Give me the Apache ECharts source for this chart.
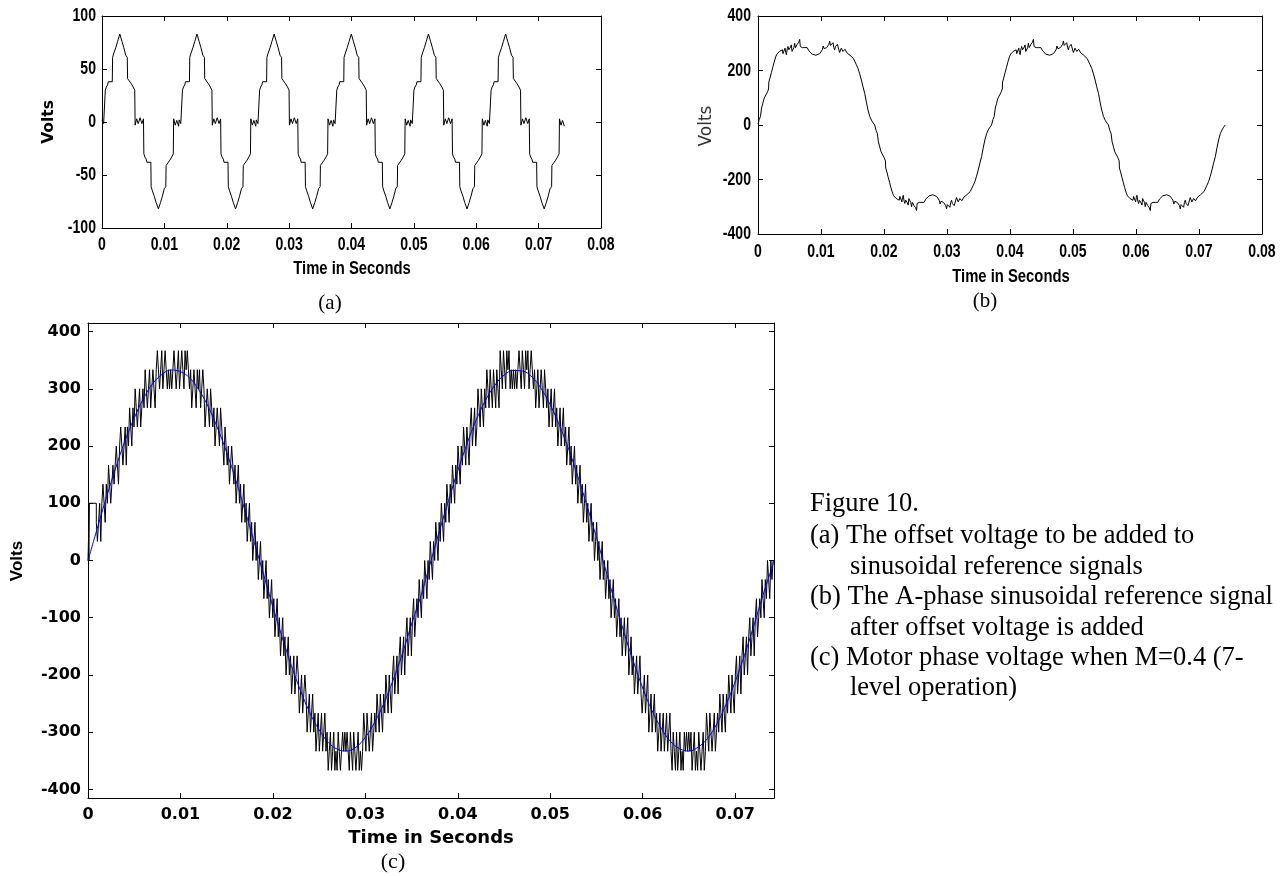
<!DOCTYPE html>
<html><head><meta charset="utf-8">
<script src="https://cdn.jsdelivr.net/npm/echarts@6/dist/echarts.min.js"></script>
<style>html,body{margin:0;padding:0;background:#fff}#chart{width:1287px;height:876px}</style>
</head><body><div id="chart"></div>
<script>
// ===== DATA (time offsets in units of 10 microseconds) =====
// (a) one period of the offset voltage
const A_PERIOD_T = [0,26,53,53,69,90,101,128,165,170,190,220,250,286,320,350,380,405,410,440,470,500,525,531,556,580,610,640,665,671,687,708,719,746,783,788,808,838,868,904,938,968,998,1023,1028,1058,1088,1118,1143,1149,1174,1198,1228];
const A_PERIOD_V = [2,-1.5,-3,30,33,35,38,39,38,61,65,70,76,83,76,70,63,61,41,40,36,33,30,-3,3,-1.5,4,-1.5,3,-30,-33,-35,-38,-39,-38,-61,-65,-70,-76,-82,-76,-70,-63,-61,-41,-40,-36,-33,-30,3,-3,1.5,-4];
const A_PERIOD_STARTS = [0, 0.01237, 0.02474, 0.03711, 0.04948, 0.06185];

// (b) one cycle of the A-phase reference after offset
const B_CYCLE_T = [0,20,40,53,56,75,95,115,135,155,168,172,190,212,235,255,281,300,318,340,360,387,397,412,429,440,450,465,476,490,503,516,529,540,556,570,582,595,608,622,635,648,661,672,690,705,725,745,760,780,795,808,830,860,890,920,950,980,1005,1021,1035,1050,1065,1074,1090,1111,1125,1138,1150,1164,1178,1191,1204,1217,1230,1244,1260,1272,1286,1296,1307,1322,1339,1350,1360,1380,1402,1415,1429,1445,1460,1490,1515,1535,1560,1587,1614,1641,1667,1694,1720,1746,1773,1800,1826,1852,
 1855,1875,1895,1908,1911,1930,1950,1970,1990,2010,2023,2027,2045,2067,2090,2110,2136,2155,2173,2195,2215,2242,2252,2267,2284,2295,2305,2320,2331,2345,2358,2371,2384,2395,2411,2425,2437,2450,2463,2477,2490,2503,2516,2527,2545,2560,2580,2600,2615,2635,2650,2663,2685,2715,2745,2775,2805,2835,2860,2876,2890,2905,2920,2929,2945,2966,2980,2993,3005,3019,3033,3046,3059,3072,3085,3099,3115,3127,3141,3151,3162,3177,3194,3205,3215,3235,3257,3270,3284,3300,3315,3345,3370,3390,3415,3442,3469,3496,3522,3549,3575,3601,3628,3655,3681,3707];
const B_CYCLE_V = [4,20,32,38,62,78,96,106,114,124,132,158,172,192,212,230,250,260,266,270,274,276,262,268,282,266,258,280,288,276,274,286,294,270,268,284,300,284,280,296,294,304,314,288,286,284,288,284,281,284,282,272,266,260,256,256,258,262,268,276,290,280,282,275,284,288,296,308,292,288,298,302,284,276,288,290,296,300,300,266,264,282,280,270,268,278,274,264,262,258,256,250,244,239,222,208,188,165,140,116,84,55,32,18,8,0,
 -4,-20,-32,-38,-62,-78,-96,-106,-114,-124,-132,-158,-172,-192,-212,-230,-250,-260,-266,-270,-274,-276,-262,-268,-282,-266,-258,-280,-288,-276,-274,-286,-294,-270,-268,-284,-300,-284,-280,-296,-294,-304,-314,-288,-286,-284,-288,-284,-281,-284,-282,-272,-266,-260,-256,-256,-258,-262,-268,-276,-290,-280,-282,-275,-284,-288,-296,-308,-292,-288,-298,-302,-284,-276,-288,-290,-296,-300,-300,-266,-264,-282,-280,-270,-268,-278,-274,-264,-262,-258,-256,-250,-244,-239,-222,-208,-188,-165,-140,-116,-84,-55,-32,-18,-8,0];
const B_CYCLE_STARTS = [0, 0.0371];

// (c) blue sinusoidal reference, sampled every 1 ms (last point 74.2 ms)
const C_BLUE_T = [0,1,2,3,4,5,6,7,8,9,10,11,12,13,14,15,16,17,18,19,20,21,22,23,24,25,26,27,28,29,30,31,32,33,34,35,36,37,38,39,40,41,42,43,44,45,46,47,48,49,50,51,52,53,54,55,56,57,58,59,60,61,62,63,64,65,66,67,68,69,70,71,72,73,74,74.2];
const C_BLUE_V = [0,56,111,162,209,249,283,309,325,333,330,319,298,269,232,189,140,86,31,-25,-81,-134,-184,-228,-266,-296,-318,-330,-333,-326,-309,-283,-250,-209,-163,-111,-62,-6,51,105,157,204,246,280,306,324,332,331,321,301,272,236,194,146,94,40,-17,-73,-127,-177,-223,-262,-293,-316,-329,-333,-326,-311,-286,-252,-212,-166,-115,-61,-11,0];

// (c) black motor phase voltage: pairs [time (10 us units), level index], 1 level = 100/3 V
const C_Q1 = [0,0, 5,1, 10,0, 15,3, 90,2, 102,1, 114,2, 126,3, 138,1, 150,3, 162,4, 174,3, 186,2, 198,4, 210,3, 222,5, 234,4, 246,3, 258,4, 270,5, 282,4, 294,5, 306,6, 318,5, 330,4, 342,6, 354,7, 366,6, 378,5, 390,6, 402,7, 414,5, 426,7, 438,6, 450,8, 462,7, 474,6, 486,8, 498,7, 510,9, 522,8, 534,7, 546,8, 558,9, 570,7, 582,8, 594,9, 606,8, 618,10, 630,9, 642,8, 654,9, 666,10, 678,8, 690,9, 702,10, 714,9, 726,8, 738,10, 750,11, 762,10, 774,9, 786,10, 798,11, 810,9, 822,10, 834,11, 846,10, 858,9, 870,10, 882,9, 894,10, 906,9, 918,10];
const C_Q2 = [930,11, 942,10, 954,9, 966,10, 978,11, 990,9, 1002,10, 1014,11, 1026,10, 1038,9, 1050,11, 1062,10, 1074,11, 1086,10, 1098,9, 1110,10, 1122,8, 1134,9, 1146,10, 1158,9, 1170,8, 1182,10, 1194,9, 1206,10, 1218,8, 1230,9, 1242,10, 1254,9, 1266,7, 1278,8, 1290,9, 1302,8, 1314,7, 1326,9, 1338,8, 1350,7, 1362,8, 1374,6, 1386,7, 1398,8, 1410,7, 1422,6, 1434,8, 1446,7, 1458,6, 1470,5, 1482,7, 1494,6, 1506,5, 1518,6, 1530,4, 1542,5, 1554,6, 1566,5, 1578,4, 1590,5, 1602,3, 1614,4, 1626,5, 1638,3, 1650,4, 1662,2, 1674,3, 1686,4, 1698,2, 1710,3, 1722,1, 1734,2, 1746,3, 1758,1, 1770,2, 1782,0, 1794,1, 1806,2, 1818,0, 1830,1, 1842,-1, 1854,0];
const C_Q3 = [1866,1, 1878,-1, 1890,0, 1902,-2, 1914,-1, 1926,0, 1938,-2, 1950,-1, 1962,-3, 1974,-2, 1986,-1, 1998,-3, 2010,-2, 2022,-4, 2034,-3, 2046,-2, 2058,-4, 2070,-3, 2082,-5, 2094,-4, 2106,-3, 2118,-5, 2130,-4, 2142,-6, 2154,-5, 2166,-4, 2178,-6, 2190,-5, 2202,-7, 2214,-6, 2226,-5, 2238,-7, 2250,-6, 2262,-5, 2274,-6, 2286,-8, 2298,-7, 2310,-6, 2322,-8, 2334,-7, 2346,-6, 2358,-7, 2370,-9, 2382,-8, 2394,-7, 2406,-9, 2418,-8, 2430,-7, 2442,-9, 2454,-8, 2466,-10, 2478,-9, 2490,-8, 2502,-10, 2514,-9, 2526,-8, 2538,-10, 2550,-9, 2562,-8, 2574,-10, 2586,-9, 2598,-11, 2610,-10, 2622,-9, 2634,-11, 2646,-10, 2658,-9, 2670,-11, 2682,-10, 2694,-11, 2706,-9, 2718,-10, 2730,-11, 2742,-10, 2754,-9, 2766,-10, 2778,-9, 2790,-10, 2802,-9, 2814,-10];
const C_Q4 = [2826,-11, 2838,-9, 2850,-10, 2862,-11, 2874,-9, 2886,-10, 2898,-11, 2910,-10, 2922,-9, 2934,-11, 2946,-10, 2958,-11, 2970,-10, 2982,-8, 2994,-9, 3006,-10, 3018,-8, 3030,-9, 3042,-10, 3054,-9, 3066,-8, 3078,-10, 3090,-9, 3102,-8, 3114,-9, 3126,-7, 3138,-8, 3150,-9, 3162,-7, 3174,-8, 3186,-9, 3198,-7, 3210,-8, 3222,-6, 3234,-7, 3246,-8, 3258,-6, 3270,-7, 3282,-8, 3294,-6, 3306,-5, 3318,-7, 3330,-6, 3342,-5, 3354,-7, 3366,-5, 3378,-4, 3390,-6, 3402,-5, 3414,-4, 3426,-6, 3438,-4, 3450,-3, 3462,-5, 3474,-4, 3486,-3, 3498,-5, 3510,-3, 3522,-2, 3534,-4, 3546,-3, 3558,-2, 3570,-3, 3582,-1, 3594,-2, 3606,-3, 3618,-1, 3630,-2, 3642,0, 3654,-1, 3666,-2, 3678,0, 3690,-1, 3702,1];
const C_Q5 = [3714,0, 3726,-1, 3738,1, 3750,0, 3762,2, 3774,1, 3786,0, 3798,2, 3810,1, 3822,3, 3834,2, 3846,1, 3858,3, 3870,2, 3882,4, 3894,3, 3906,2, 3918,4, 3930,3, 3942,5, 3954,4, 3966,3, 3978,5, 3990,4, 4002,6, 4014,5, 4026,4, 4038,6, 4050,5, 4062,7, 4074,6, 4086,5, 4098,7, 4110,6, 4122,5, 4134,7, 4146,8, 4158,6, 4170,7, 4182,8, 4194,6, 4206,7, 4218,9, 4230,8, 4242,7, 4254,9, 4266,8, 4278,7, 4290,9, 4302,8, 4314,10, 4326,9, 4338,8, 4350,10, 4362,9, 4374,8, 4386,10, 4398,9, 4410,8, 4422,10, 4434,9, 4446,8, 4458,11, 4470,10, 4482,9, 4494,11, 4506,10, 4518,9, 4530,11, 4542,10, 4554,11, 4566,9, 4578,10, 4590,9, 4602,10, 4614,9, 4626,10, 4638,9];
const C_Q6 = [4650,10, 4662,11, 4674,10, 4686,9, 4698,11, 4710,10, 4722,9, 4734,11, 4746,10, 4758,11, 4770,9, 4782,10, 4794,11, 4806,10, 4818,9, 4830,10, 4842,8, 4854,9, 4866,10, 4878,8, 4890,9, 4902,10, 4914,9, 4926,8, 4938,10, 4950,9, 4962,8, 4974,9, 4986,7, 4998,8, 5010,9, 5022,7, 5034,8, 5046,9, 5058,7, 5070,8, 5082,6, 5094,7, 5106,8, 5118,6, 5130,7, 5142,8, 5154,6, 5166,7, 5178,5, 5190,6, 5202,7, 5214,5, 5226,6, 5238,4, 5250,5, 5262,6, 5274,4, 5286,5, 5298,3, 5310,4, 5322,5, 5334,3, 5346,4, 5358,2, 5370,3, 5382,4, 5394,2, 5406,3, 5418,1, 5430,2, 5442,3, 5454,1, 5466,2, 5478,0, 5490,1, 5502,2, 5514,0, 5526,1, 5538,-1, 5550,0, 5562,1];
const C_Q7 = [5574,-1, 5586,0, 5598,-2, 5610,-1, 5622,0, 5634,-2, 5646,-1, 5658,-3, 5670,-2, 5682,-1, 5694,-3, 5706,-2, 5718,-4, 5730,-3, 5742,-2, 5754,-4, 5766,-3, 5778,-5, 5790,-4, 5802,-3, 5814,-5, 5826,-4, 5838,-3, 5850,-6, 5862,-5, 5874,-4, 5886,-6, 5898,-5, 5910,-7, 5922,-6, 5934,-5, 5946,-7, 5958,-6, 5970,-5, 5982,-7, 5994,-8, 6006,-7, 6018,-6, 6030,-8, 6042,-7, 6054,-6, 6066,-9, 6078,-8, 6090,-7, 6102,-9, 6114,-8, 6126,-7, 6138,-9, 6150,-8, 6162,-10, 6174,-9, 6186,-8, 6198,-10, 6210,-9, 6222,-8, 6234,-10, 6246,-9, 6258,-8, 6270,-10, 6282,-9, 6294,-8, 6306,-10, 6318,-11, 6330,-9, 6342,-10, 6354,-11, 6366,-9, 6378,-11, 6390,-10, 6402,-9, 6414,-11, 6426,-10, 6438,-11, 6450,-9, 6462,-10, 6474,-9, 6486,-10, 6498,-9, 6510,-10, 6522,-9];
const C_Q8 = [6534,-11, 6546,-10, 6558,-9, 6570,-11, 6582,-10, 6594,-11, 6606,-9, 6618,-10, 6630,-11, 6642,-10, 6654,-9, 6666,-11, 6678,-10, 6690,-8, 6702,-9, 6714,-10, 6726,-8, 6738,-9, 6750,-10, 6762,-9, 6774,-8, 6786,-10, 6798,-9, 6810,-8, 6822,-9, 6834,-7, 6846,-8, 6858,-9, 6870,-7, 6882,-8, 6894,-9, 6906,-7, 6918,-8, 6930,-6, 6942,-7, 6954,-8, 6966,-6, 6978,-7, 6990,-8, 7002,-6, 7014,-5, 7026,-7, 7038,-6, 7050,-5, 7062,-7, 7074,-5, 7086,-4, 7098,-6, 7110,-5, 7122,-4, 7134,-6, 7146,-4, 7158,-3, 7170,-5, 7182,-4, 7194,-3, 7206,-5, 7218,-3, 7230,-2, 7242,-4, 7254,-3, 7266,-2, 7278,-3, 7290,-1, 7302,-2, 7314,-3, 7326,-1, 7338,-2, 7350,0, 7362,-1, 7374,-2, 7386,0, 7398,-1, 7410,0, 7420,0];

const C_XTICKS = [0,0.01,0.02,0.03,0.04,0.05,0.06,0.07];
const C_YTICKS = [-400,-300,-200,-100,0,100,200,300,400];

// ===== build series tables =====
const US = 1e-5;
const dataA = [];
A_PERIOD_STARTS.forEach(s => A_PERIOD_T.forEach((t, i) => dataA.push([s + t * US, A_PERIOD_V[i]])));
const dataB = [];
B_CYCLE_STARTS.forEach(s => B_CYCLE_T.forEach((t, i) => dataB.push([s + t * US, B_CYCLE_V[i]])));
const dataBlue = C_BLUE_T.map((t, i) => [t / 1000, C_BLUE_V[i]]);
const dataBlack = [];
[C_Q1, C_Q2, C_Q3, C_Q4, C_Q5, C_Q6, C_Q7, C_Q8].forEach(q => {
  for (let i = 0; i < q.length; i += 2) dataBlack.push([q[i] * US, q[i + 1] * 100 / 3]);
});

// ===== styles =====
const NARROW = '"Liberation Sans",Arial,sans-serif,narrowmark';
const DJV = '"DejaVu Sans",sans-serif';
const SERIF = '"Liberation Serif","Times New Roman",serif';
const ARIAL = '"Liberation Sans",Arial,sans-serif';
const fmt2 = v => String(+(+v).toFixed(2));
const line = {show: true, onZero: false, lineStyle: {color: '#000', width: 1}};
const tick = {show: true, inside: true, length: 5, lineStyle: {color: '#000', width: 1}};

function ax(g, pos, min, max, interval, label) {
  return {gridIndex: g, type: 'value', position: pos, min, max, interval,
    axisLine: line, axisTick: tick, splitLine: {show: false},
    axisLabel: label ? label : {show: false}};
}
const chart = echarts.init(document.getElementById('chart'), null, {renderer: 'canvas'});
const labA = {show: true, fontFamily: NARROW, fontWeight: 'bold', fontSize: 19, color: '#000', margin: 7, formatter: fmt2};
const labAy = {show: true, fontFamily: NARROW, fontWeight: 'bold', fontSize: 19, color: '#000', margin: 6};
const labCx = {show: true, fontFamily: DJV, fontWeight: 'bold', fontSize: 16, color: '#000', margin: 9, formatter: fmt2, customValues: C_XTICKS};
const labCy = {show: true, fontFamily: DJV, fontWeight: 'bold', fontSize: 16, color: '#000', margin: 7, customValues: C_YTICKS};
const tickCx = Object.assign({}, tick, {customValues: C_XTICKS});
const tickCy = Object.assign({}, tick, {customValues: C_YTICKS});
const txt = (x, y, text, font, extra) => Object.assign({type: 'text', x, y, style: Object.assign({text, fill: '#000', align: 'center', verticalAlign: 'middle'}, font)}, extra || {});

const option = {
  animation: false,
  backgroundColor: '#fff',
  grid: [
    {left: 102, top: 16, width: 499, height: 212},
    {left: 758, top: 16, width: 504, height: 218},
    {left: 88, top: 323, width: 686, height: 475}
  ],
  xAxis: [
    ax(0, 'bottom', 0, 0.08, 0.01, labA),
    ax(0, 'top', 0, 0.08, 0.01, null),
    ax(1, 'bottom', 0, 0.08, 0.01, Object.assign({}, labA, {margin: 8})),
    ax(1, 'top', 0, 0.08, 0.01, null),
    {gridIndex: 2, type: 'value', position: 'bottom', min: 0, max: 0.0742, axisLine: line, axisTick: tickCx, axisLabel: labCx, splitLine: {show: false}},
    {gridIndex: 2, type: 'value', position: 'top', min: 0, max: 0.0742, axisLine: line, axisTick: tickCx, axisLabel: {show: false, customValues: C_XTICKS}, splitLine: {show: false}}
  ],
  yAxis: [
    ax(0, 'left', -100, 100, 50, labAy),
    ax(0, 'right', -100, 100, 50, null),
    ax(1, 'left', -400, 400, 200, Object.assign({}, labAy, {margin: 7})),
    ax(1, 'right', -400, 400, 200, null),
    {gridIndex: 2, type: 'value', position: 'left', min: -415, max: 415, axisLine: line, axisTick: tickCy, axisLabel: labCy, splitLine: {show: false}},
    {gridIndex: 2, type: 'value', position: 'right', min: -415, max: 415, axisLine: line, axisTick: tickCy, axisLabel: {show: false, customValues: C_YTICKS}, splitLine: {show: false}}
  ],
  series: [
    {type: 'line', xAxisIndex: 0, yAxisIndex: 0, data: dataA, symbol: 'none', lineStyle: {color: '#000', width: 1}, silent: true},
    {type: 'line', xAxisIndex: 2, yAxisIndex: 2, data: dataB, symbol: 'none', lineStyle: {color: '#000', width: 1}, silent: true},
    {type: 'line', xAxisIndex: 4, yAxisIndex: 4, data: dataBlack, step: 'end', symbol: 'none', lineStyle: {color: '#000', width: 1}, silent: true},
    {type: 'line', xAxisIndex: 4, yAxisIndex: 4, data: dataBlue, smooth: 0.4, symbol: 'none', lineStyle: {color: '#0000ff', width: 1}, silent: true}
  ],
  graphic: [
    txt(49, 122, 'Volts', {fontFamily: DJV, fontWeight: 'bold', fontSize: 15.5}, {rotation: Math.PI / 2}),
    txt(352, 269, 'Time in Seconds', {fontFamily: ARIAL, fontWeight: 'bold', fontSize: 19}, {scaleX: 0.78}),
    txt(330, 303, '(a)', {fontFamily: SERIF, fontSize: 21}),
    txt(707, 126, 'Volts', {fontFamily: DJV, fontSize: 17, fill: '#333'}, {rotation: Math.PI / 2}),
    txt(1011, 277, 'Time in Seconds', {fontFamily: ARIAL, fontWeight: 'bold', fontSize: 19}, {scaleX: 0.78}),
    txt(985, 301, '(b)', {fontFamily: SERIF, fontSize: 21}),
    txt(17, 561, 'Volts', {fontFamily: ARIAL, fontWeight: 'bold', fontSize: 17}, {rotation: Math.PI / 2}),
    txt(431, 838, 'Time in Seconds', {fontFamily: DJV, fontWeight: 'bold', fontSize: 18}),
    txt(393, 862, '(c)', {fontFamily: SERIF, fontSize: 22}),
    txt(810, 504, 'Figure 10.', {fontFamily: SERIF, fontSize: 26.5, align: 'left'}),
    txt(810, 536, '(a) The offset voltage to be added to', {fontFamily: SERIF, fontSize: 26.5, align: 'left'}),
    txt(850, 567, 'sinusoidal reference signals', {fontFamily: SERIF, fontSize: 26.5, align: 'left'}),
    txt(810, 597, '(b) The A-phase sinusoidal reference signal', {fontFamily: SERIF, fontSize: 26.5, align: 'left'}),
    txt(850, 628, 'after offset voltage is added', {fontFamily: SERIF, fontSize: 26.5, align: 'left'}),
    txt(810, 658, '(c) Motor phase voltage when M=0.4 (7-', {fontFamily: SERIF, fontSize: 26.5, align: 'left'}),
    txt(850, 688, 'level operation)', {fontFamily: SERIF, fontSize: 26.5, align: 'left'})
  ]
};
chart.setOption(option);

// condense the (a)/(b) tick labels horizontally, like the narrow font of the original
const zr = chart.getZr();
const condense = el => {
  if (el.type === 'text' && el.style && String(el.style.fontFamily || '').indexOf('narrowmark') >= 0) {
    el.scaleX = 0.74;
    el.markRedraw();
  }
  if (el.isGroup) el.eachChild(condense);
};
zr.storage.getRoots().forEach(condense);
zr.refresh();
</script></body></html>
